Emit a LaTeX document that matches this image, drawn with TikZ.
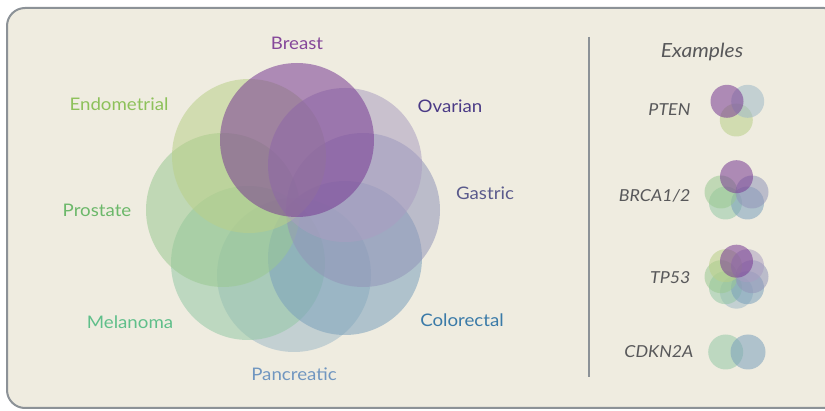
\documentclass[tikz,border=0pt]{standalone}
\usepackage{fontspec}
\setmainfont{Lato}[FakeStretch=1.08]
\definecolor{bgcol}{HTML}{EFECE0}
\definecolor{framecol}{HTML}{8C9297}
\definecolor{cBreast}{HTML}{773A92}
\definecolor{cOvarian}{HTML}{AA9EC1}
\definecolor{cGastric}{HTML}{9295B8}
\definecolor{cColorectal}{HTML}{7BA1BC}
\definecolor{cPancreatic}{HTML}{9FB9C8}
\definecolor{cMelanoma}{HTML}{94C8A6}
\definecolor{cProstate}{HTML}{9AC992}
\definecolor{cEndometrial}{HTML}{BACF89}
\definecolor{tBreast}{HTML}{85479A}
\definecolor{tOvarian}{HTML}{4A3A86}
\definecolor{tGastric}{HTML}{5A5A8C}
\definecolor{tColorectal}{HTML}{3A7AA8}
\definecolor{tPancreatic}{HTML}{7096C0}
\definecolor{tMelanoma}{HTML}{5FBF8A}
\definecolor{tProstate}{HTML}{6CB86A}
\definecolor{tEndometrial}{HTML}{8DC15A}
\definecolor{tgray}{HTML}{58585A}
\begin{document}
\begin{tikzpicture}[x=1pt,y=-1pt,
  bigc/.style={circle, inner sep=0pt, minimum size=154pt, fill=#1, fill opacity=0.55},
  minic/.style={circle, inner sep=0pt, minimum size=33pt, fill=#1, fill opacity=0.55},
  lbl/.style={font=\fontsize{17.3}{20}\selectfont, anchor=base, text=#1},
  extxt/.style={font=\fontsize{16.5}{20}\selectfont\itshape, text=tgray, anchor=base east}]
\useasboundingbox (0,0) rectangle (825,411);
\draw[draw=framecol, line width=2pt, fill=bgcol, rounded corners=18pt] (7,8) rectangle (842,408);
% big diagram
\node[bigc=cPancreatic] (pan) at (294,275) {};
\node[bigc=cMelanoma] (mel) at (248,263) {};
\node[bigc=cColorectal] (col) at (345,258) {};
\node[bigc=cProstate] (pro) at (223,210) {};
\node[bigc=cGastric] (gas) at (363,210) {};
\node[bigc=cEndometrial] (end) at (249,156) {};
\node[bigc=cOvarian] (ova) at (345,165) {};
\node[bigc=cBreast] (bre) at (297,140) {};
% labels
\node[lbl=tBreast] (lbre) at (297,50) {Breast};
\node[lbl=tEndometrial] (lend) at (119,111) {Endometrial};
\node[lbl=tOvarian] (lova) at (450,113) {Ovarian};
\node[lbl=tGastric] (lgas) at (485,200) {Gastric};
\node[lbl=tProstate] (lpro) at (97,217) {Prostate};
\node[lbl=tMelanoma] (lmel) at (130,329) {Melanoma};
\node[lbl=tColorectal] (lcol) at (462,327) {Colorectal};
\node[lbl=tPancreatic] (lpan) at (294,381) {Pancreatic};
% divider
\coordinate (dtop) at (589,37);
\coordinate (dbot) at (589,377);
\draw[framecol, line width=1.1pt] (dtop) -- (dbot);
% examples
\node[font=\fontsize{19.5}{22}\selectfont\itshape, text=tgray, anchor=base] (ex) at (702,58) {Examples};
\node[extxt] (pten) at (694,116) {PTEN};
\node[extxt] (brca) at (694,202) {BRCA1/2};
\node[extxt] (tp53) at (694,284) {TP53};
\node[extxt] (cdkn) at (697,358) {CDKN2A};
% PTEN minis
\node[minic=cEndometrial] (p1) at (736.3,120) {};
\node[minic=cPancreatic] (p2) at (747.7,101.3) {};
\node[minic=cBreast] (p3) at (727,101.3) {};
% BRCA minis (center 736.5,192)
\node[minic=cMelanoma] (b1) at (725.5,203) {};
\node[minic=cColorectal] (b2) at (747.5,203) {};
\node[minic=cProstate] (b3) at (721,192) {};
\node[minic=cGastric] (b4) at (752,192) {};
\node[minic=cBreast] (b5) at (736.5,176.7) {};
% TP53 minis (center 736.5,276.7)
\node[minic=cPancreatic] (t1) at (736.5,292.2) {};
\node[minic=cMelanoma] (t2) at (725.5,287.7) {};
\node[minic=cColorectal] (t3) at (747.5,287.7) {};
\node[minic=cProstate] (t4) at (721,276.7) {};
\node[minic=cGastric] (t5) at (752,276.7) {};
\node[minic=cEndometrial] (t6) at (725.5,265.7) {};
\node[minic=cOvarian] (t7) at (747.5,265.7) {};
\node[minic=cBreast] (t8) at (736.5,261.2) {};
% CDKN2A minis
\node[circle, inner sep=0pt, minimum size=35pt, fill=cMelanoma, fill opacity=0.55] (c1) at (725.7,352) {};
\node[circle, inner sep=0pt, minimum size=35pt, fill=cColorectal, fill opacity=0.55] (c2) at (748,352) {};
\end{tikzpicture}
\end{document}
